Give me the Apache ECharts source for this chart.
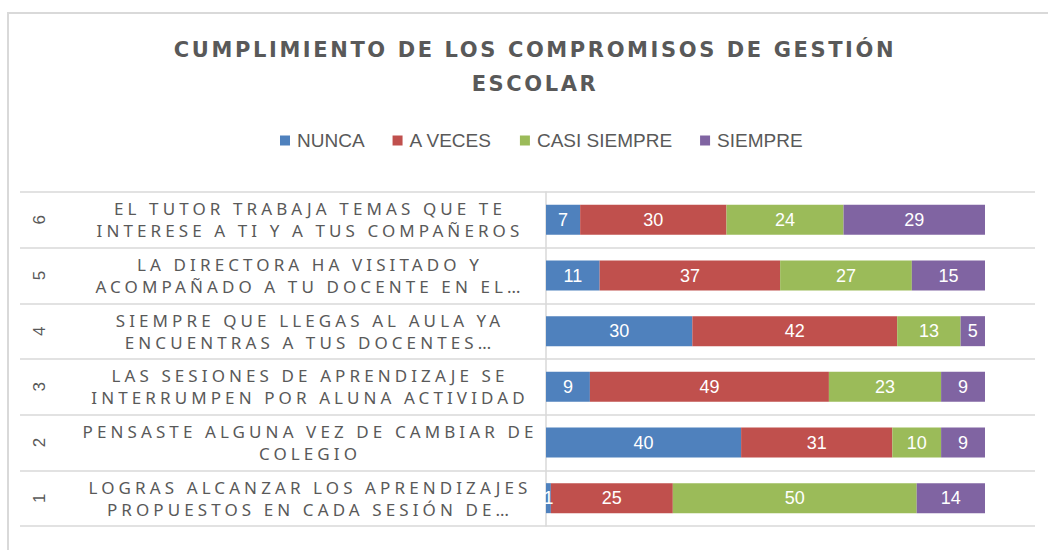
<!DOCTYPE html>
<html>
<head>
<meta charset="utf-8">
<script src="https://cdn.jsdelivr.net/npm/echarts@6/dist/echarts.min.js"></script>
<style>
    html, body { margin: 0; padding: 0; background: #fff; }
    #chart { width: 1048px; height: 550px; }
    /* espaciado de letras como en el original de Excel */
    #chart text[style*="DejaVu Sans"] { letter-spacing: 2.6px; }
    #chart text[style*="Noto Sans"] { letter-spacing: 4.1px; }
</style>
</head>
<body>
<div id="chart"></div>
<script>
const rowNumbers = ['1', '2', '3', '4', '5', '6'];
const questions = [
    'LOGRAS ALCANZAR LOS APRENDIZAJES\nPROPUESTOS EN CADA SESIÓN DE…',
    'PENSASTE ALGUNA VEZ DE CAMBIAR DE\nCOLEGIO',
    'LAS SESIONES DE APRENDIZAJE SE\nINTERRUMPEN POR ALUNA ACTIVIDAD',
    'SIEMPRE QUE LLEGAS AL AULA YA\nENCUENTRAS A TUS DOCENTES…',
    'LA DIRECTORA HA VISITADO Y\nACOMPAÑADO A TU DOCENTE EN EL…',
    'EL TUTOR TRABAJA TEMAS QUE TE\nINTERESE A TI Y A TUS COMPAÑEROS'
];
const seriesNames = ['NUNCA', 'A VECES', 'CASI SIEMPRE', 'SIEMPRE'];
const nunca = [1, 40, 9, 30, 11, 7];
const aVeces = [25, 31, 49, 42, 37, 30];
const casiSiempre = [50, 10, 23, 13, 27, 24];
const siempre = [14, 9, 9, 5, 15, 29];
const colors = ['#4F81BD', '#C0504D', '#9BBB59', '#8064A2'];

document.addEventListener('DOMContentLoaded', () => {
    const chart = echarts.init(document.getElementById('chart'), null, { renderer: 'svg' });

    const values = [nunca, aVeces, casiSiempre, siempre];
    const series = seriesNames.map((name, i) => ({
        name,
        type: 'bar',
        stack: 'total',
        xAxisIndex: 0,
        yAxisIndex: 0,
        barWidth: 30,
        itemStyle: { color: colors[i] },
        label: {
            show: true,
            position: 'inside',
            color: '#fff',
            fontFamily: 'Liberation Sans',
            fontSize: 18
        },
        data: values[i]
    }));

    const option = {
        animation: false,
        color: colors,
        title: {
            text: 'CUMPLIMIENTO DE LOS COMPROMISOS DE GESTIÓN\nESCOLAR',
            left: 530,
            top: 28,
            textAlign: 'center',
            textStyle: {
                fontFamily: 'DejaVu Sans',
                fontWeight: 'bold',
                fontSize: 21,
                lineHeight: 34,
                color: '#595959'
            }
        },
        legend: {
            data: seriesNames,
            left: 275,
            top: 126,
            itemWidth: 10,
            itemHeight: 10,
            itemGap: 28,
            icon: 'rect',
            textStyle: {
                fontFamily: 'Liberation Sans',
                fontSize: 19,
                color: '#595959',
                padding: [0, 0, 0, 2]
            }
        },
        graphic: [{
            type: 'rect',
            shape: { x: 8, y: 13, width: 1100, height: 600 },
            style: { fill: 'none', stroke: '#d9d9d9', lineWidth: 2 },
            silent: true,
            z: -10
        }],
        grid: [
            { left: 546, right: 63, top: 192, bottom: 24 },
            { left: 20, right: 13, top: 192, bottom: 24 }
        ],
        xAxis: [
            { type: 'value', gridIndex: 0, min: 0, max: 90, show: false },
            { type: 'value', gridIndex: 1, min: 0, max: 1, show: false }
        ],
        yAxis: [
            {
                type: 'category',
                gridIndex: 0,
                data: questions,
                axisLine: { show: true, lineStyle: { color: '#d9d9d9', width: 1.5 } },
                axisTick: { show: false },
                splitLine: { show: false },
                axisLabel: {
                    align: 'center',
                    margin: 236,
                    fontFamily: 'Noto Sans',
                    fontSize: 17,
                    lineHeight: 22,
                    color: '#595959'
                }
            },
            {
                type: 'category',
                gridIndex: 0,
                position: 'left',
                data: rowNumbers,
                axisLine: { show: false },
                axisTick: { show: false },
                axisLabel: {
                    rotate: 90,
                    align: 'center',
                    verticalAlign: 'middle',
                    margin: 507,
                    fontFamily: 'Liberation Sans',
                    fontSize: 17,
                    color: '#595959'
                }
            },
            {
                type: 'category',
                gridIndex: 1,
                data: rowNumbers,
                axisLine: { show: false },
                axisTick: { show: false },
                axisLabel: { show: false },
                splitLine: { show: true, lineStyle: { color: '#d9d9d9', width: 1.5 } }
            }
        ],
        series
    };

    chart.setOption(option);
});
</script>
</body>
</html>
